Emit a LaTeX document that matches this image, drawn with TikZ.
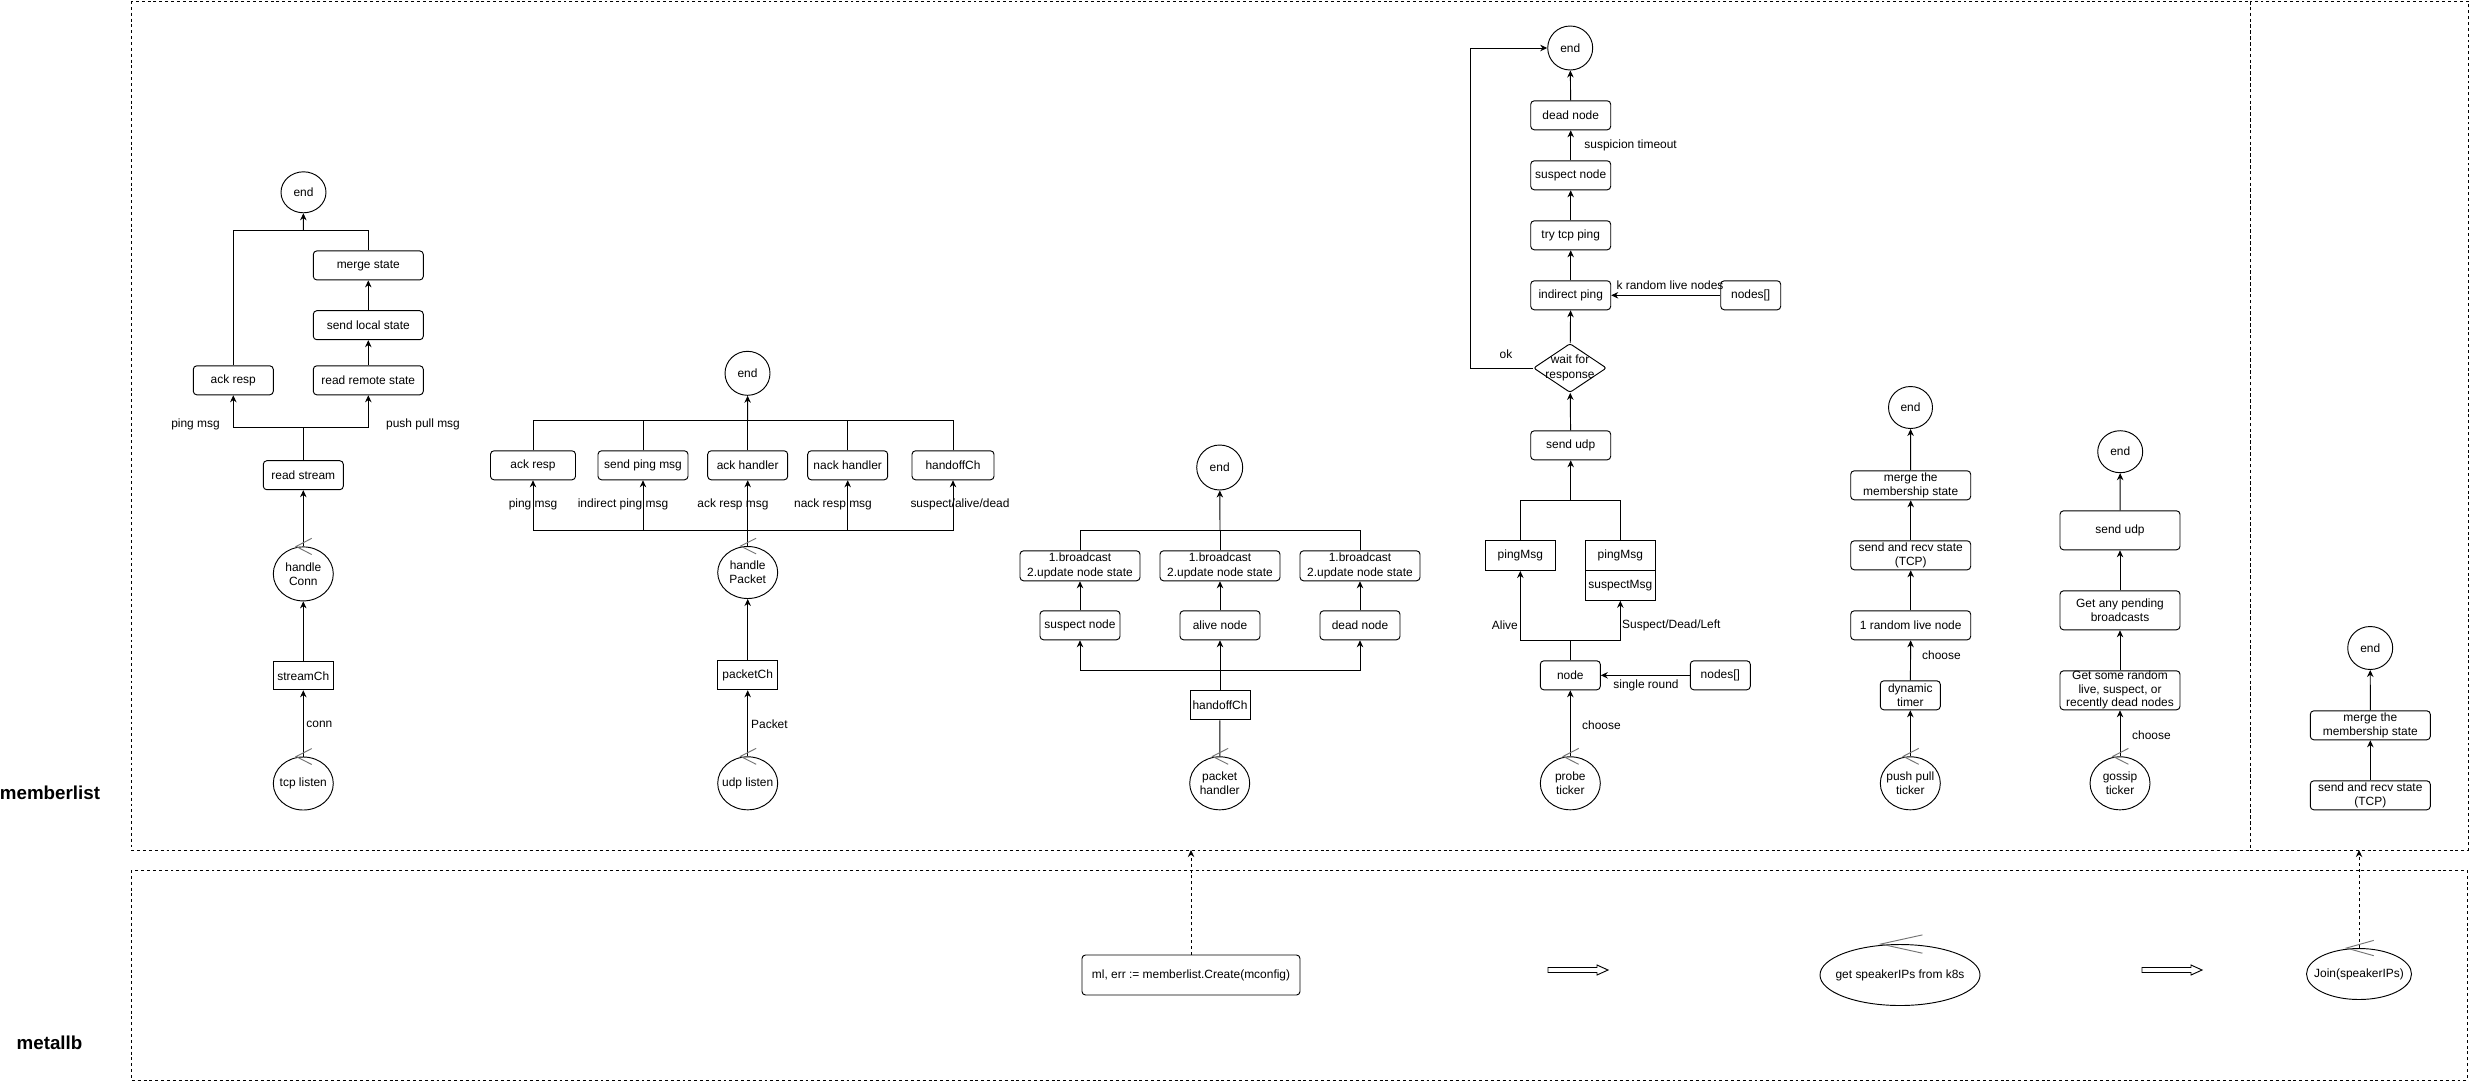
\documentclass[tikz,border=0pt]{standalone}
\usepackage{fontspec}
\setmainfont{Liberation Sans}
\usetikzlibrary{shapes.geometric,arrows.meta,calc}

\newcommand{\boxfont}{\fontsize{10.2}{12.2}\selectfont}

\begin{document}
\begin{tikzpicture}[
  x=0.03cm, y=-0.03cm,
  line width=0.8pt,
  >={Stealth[length=6pt,width=5.5pt]},
  sz/.style 2 args={minimum width=#1*0.03cm, minimum height=#2*0.03cm},
  proc/.style={rectangle, draw, rounded corners=3pt, inner sep=0pt, align=center, font=\boxfont},
  chan/.style={rectangle, draw, inner sep=0pt, align=center, font=\boxfont},
  term/.style={ellipse, draw, inner sep=0pt, font=\boxfont},
  ctrl/.style={ellipse, draw, inner sep=0pt, label={[lbl, align=center]center:#1}},
  decide/.style={diamond, draw, rounded corners=2pt, inner sep=0pt},
  lbl/.style={font=\boxfont, inner sep=0pt},
  zone/.style={draw, dash pattern=on 2.5pt off 2.5pt},
  zonelbl/.style={font=\fontsize{16}{18}\selectfont\bfseries, inner sep=0pt},
  chev/.style={draw=black!55},
  dasharrow/.style={->, dash pattern=on 2.5pt off 2.5pt},
  hollow/.style={draw, fill=white}
]
\useasboundingbox (0,0) rectangle (2471,1081);

% -- Frames --
\draw[zone] (131,1) rectangle (2250,850);
\draw[zone] (2250,1) rectangle (2468,850);
\draw[zone] (131,870) rectangle (2467,1080);
\node[zonelbl] (lblMember) at (50,793) {memberlist};
\node[zonelbl] (lblMetal)  at (49.5,1043) {metallb};

% -- Stream flow --
\node[term, sz={45}{41}]  (endA)     at (303.5,192.3) {end};
\node[proc, sz={110}{29}] (mergeA)   at (368.3,265.4) {merge state};
\node[proc, sz={110}{29}] (sendlocA) at (368.3,325.2) {send local state};
\node[proc, sz={110}{29}] (readremA) at (368.3,380.3) {read remote state};
\node[proc, sz={80}{29}]  (ackA)     at (233.3,380.3) {ack resp};
\node[proc, sz={80}{29}]  (readA)    at (303.3,475.2) {read stream};
\node[ctrl={handle\\Conn}, sz={60}{54}] (handleA) at (303.3,573.9) {};
\node[chan, sz={60}{28}]  (streamCh) at (303.3,675.8) {streamCh};
\node[ctrl={tcp listen}, sz={60}{53}] (tcpA) at (303.3,783.5) {};

\coordinate (joinA) at (303.3,230.2);
\coordinate (forkA) at (303.3,427.5);

\draw (ackA.north) |- (joinA);
\draw (mergeA.north) |- (joinA);
\draw[->] (joinA) -- (endA);
\draw[->] (readremA) -- (sendlocA);
\draw[->] (sendlocA) -- (mergeA);
\draw (readA) -- (forkA);
\draw[->] (forkA) -| (ackA.south);
\draw[->] (forkA) -| (readremA.south);
\draw[->] (handleA) -- (readA);
\draw[->] (streamCh) -- (handleA);
\draw[->] (tcpA) -- (streamCh);

\node[lbl] (lblPingA) at (195.5,424.5) {ping msg};
\node[lbl] (lblPushA) at (423,424.5)   {push pull msg};
\node[lbl, anchor=west] (lblConnA) at (306,724.6) {conn};

% -- Packet flow --
\node[term, sz={45}{44}] (endB)      at (747.5,373.3) {end};
\node[proc, sz={85}{29}] (ackB)      at (533,465.3)   {ack resp};
\node[proc, sz={90}{29}] (sendpingB) at (643,465.3)   {send ping msg};
\node[proc, sz={80}{29}] (ackhB)     at (747.7,465.3) {ack handler};
\node[proc, sz={80}{29}] (nackhB)    at (847.7,465.3) {nack handler};
\node[proc, sz={82}{29}] (handoffB)  at (953,465.3)   {handoffCh};
\node[ctrl={handle\\Packet}, sz={60}{52}] (handleB) at (747.7,572.5) {};
\node[chan, sz={60}{29}] (packetCh)  at (747.7,675.3) {packetCh};
\node[ctrl={udp listen}, sz={60}{53}] (udpB) at (747.7,783.3) {};

\coordinate (joinB) at (747.7,420.7);
\coordinate (forkB) at (747.7,530.7);

\draw (handleB) -- (forkB);
\draw[->] (forkB) -| (ackB.south);
\draw[->] (forkB) -| (sendpingB.south);
\draw[->] (forkB) -- (ackhB.south);
\draw[->] (forkB) -| (nackhB.south);
\draw[->] (forkB) -| (handoffB.south);
\draw (ackB.north) |- (joinB);
\draw (sendpingB.north) |- (joinB);
\draw (ackhB.north) -- (joinB);
\draw (nackhB.north) |- (joinB);
\draw (handoffB.north) |- (joinB);
\draw[->] (joinB) -- (endB);
\draw[->] (packetCh) -- (handleB);
\draw[->] (udpB) -- (packetCh);

\node[lbl] (lblPingB)    at (533,504.7) {ping msg};
\node[lbl] (lblIndB)     at (623,504.7) {indirect ping msg};
\node[lbl] (lblAckB)     at (733,504.7) {ack resp msg};
\node[lbl] (lblNackB)    at (833,504.7) {nack resp msg};
\node[lbl] (lblStateB)   at (960,504.7) {suspect/alive/dead};
\node[lbl, anchor=west] (lblPacketB) at (750.7,724.3) {Packet};

% -- Handoff flow --
\node[term, sz={46}{45}]  (endC)    at (1219.7,467.5) {end};
\node[proc, sz={120}{30}] (bcastC1) at (1080,565.8) {1.broadcast\\2.update node state};
\node[proc, sz={120}{30}] (bcastC2) at (1220,565.8) {1.broadcast\\2.update node state};
\node[proc, sz={120}{30}] (bcastC3) at (1360,565.8) {1.broadcast\\2.update node state};
\node[proc, sz={80}{29}]  (suspC)   at (1080,625.3) {suspect node};
\node[proc, sz={80}{29}]  (aliveC)  at (1220,625.3) {alive node};
\node[proc, sz={80}{29}]  (deadC)   at (1360,625.3) {dead node};
\node[chan, sz={60}{29}]  (handoffC) at (1220,705.3) {handoffCh};
\node[ctrl={packet\\handler}, sz={60}{53}] (pktC) at (1219.7,783.3) {};

\coordinate (joinC) at (1220,530);
\coordinate (forkC) at (1220,670);

\draw (pktC) -- (handoffC);
\draw (handoffC) -- (forkC);
\draw[->] (forkC) -| (suspC.south);
\draw[->] (forkC) -- (aliveC.south);
\draw[->] (forkC) -| (deadC.south);
\draw[->] (suspC) -- (bcastC1);
\draw[->] (aliveC) -- (bcastC2);
\draw[->] (deadC) -- (bcastC3);
\draw (bcastC1.north) |- (joinC);
\draw (bcastC2.north) -- (joinC);
\draw (bcastC3.north) |- (joinC);
\draw[->] (joinC) -- (endC);

% -- Probe flow --
\node[term, sz={45}{44}] (endD)    at (1570.2,48)    {end};
\node[proc, sz={80}{29}] (deadD)   at (1570.7,115.3) {dead node};
\node[proc, sz={80}{29}] (suspD)   at (1570.7,175.3) {suspect node};
\node[proc, sz={80}{29}] (tcpD)    at (1570.7,235.3) {try tcp ping};
\node[proc, sz={80}{29}] (indD)    at (1570.7,295.3) {indirect ping};
\node[proc, sz={60}{29}] (nodesD1) at (1750.7,295.3) {nodes[]};
\node[decide, sz={73}{49}, label={[lbl, align=center]center:wait for\\response}] (waitD) at (1570,368) {};
\node[proc, sz={80}{29}] (sendD)   at (1570.7,445.3) {send udp};
\node[chan, sz={70}{30}] (pingD1)  at (1520.3,555.5) {pingMsg};
\node[chan, sz={70}{30}] (pingD2)  at (1620.3,555.5) {pingMsg};
\node[chan, sz={70}{30}] (suspMsgD) at (1620.3,585.3) {suspectMsg};
\node[proc, sz={60}{29}] (nodeD)   at (1570.3,675.3) {node};
\node[proc, sz={60}{29}] (nodesD2) at (1720.3,675.3) {nodes[]};
\node[ctrl={probe\\ticker}, sz={60}{53}] (probeD) at (1570.3,783.3) {};

\coordinate (cornerD) at (1470.7,48);
\coordinate (joinD) at (1570.7,500);
\coordinate (forkD) at (1570.3,640);

\draw[->] (waitD.west) -| (cornerD) -- (endD.west);
\draw[->] (deadD) -- (endD);
\draw[->] (suspD) -- (deadD);
\draw[->] (tcpD) -- (suspD);
\draw[->] (indD) -- (tcpD);
\draw[->] (nodesD1) -- (indD);
\draw[->] (waitD) -- (indD);
\draw[->] (sendD) -- (waitD);
\draw (pingD1.north) |- (joinD);
\draw (pingD2.north) |- (joinD);
\draw[->] (joinD) -- (sendD);
\draw (nodeD) -- (forkD);
\draw[->] (forkD) -| (pingD1.south);
\draw[->] (forkD) -| (suspMsgD.south);
\draw[->] (nodesD2) -- (nodeD);
\draw[->] (probeD) -- (nodeD);

\node[lbl] (lblOkD) at (1506,354.3) {ok};
\node[lbl, anchor=west] (lblTimeoutD) at (1584,145) {suspicion timeout};
\node[lbl] (lblRandD) at (1670,285) {k random live nodes};
\node[lbl, anchor=east] (lblAliveD) at (1518.3,625) {Alive};
\node[lbl, anchor=west] (lblSuspD) at (1621.7,625) {Suspect/Dead/Left};
\node[lbl] (lblRoundD) at (1646,685) {single round};
\node[lbl, anchor=west] (lblChooseD) at (1581.7,725) {choose};

% -- Push pull flow --
\node[term, sz={44}{42}]  (endE)      at (1910.5,407.5) {end};
\node[proc, sz={120}{29}] (mergeE)    at (1910.7,485.3) {merge the\\membership state};
\node[proc, sz={120}{29}] (sendrecvE) at (1910.7,555.3) {send and recv state\\(TCP)};
\node[proc, sz={120}{29}] (randE)     at (1910.7,625.3) {1 random live node};
\node[proc, sz={60}{29}]  (timerE)    at (1910.3,695.3) {dynamic\\timer};
\node[ctrl={push pull\\ticker}, sz={60}{53}] (pushE) at (1910.3,783.3) {};

\draw[->] (mergeE) -- (endE);
\draw[->] (sendrecvE) -- (mergeE);
\draw[->] (randE) -- (sendrecvE);
\draw[->] (timerE) -- (randE);
\draw[->] (pushE) -- (timerE);
\node[lbl, anchor=west] (lblChooseE) at (1921.7,655) {choose};

% -- Gossip flow --
\node[term, sz={45}{42}]  (endF)    at (2120.2,451.7) {end};
\node[proc, sz={120}{39}] (sendF)   at (2120,530.3) {send udp};
\node[proc, sz={120}{39}] (pendF)   at (2120,610.3) {Get any pending\\broadcasts};
\node[proc, sz={120}{39}, font=\fontsize{10.2}{11.5}\selectfont] (someF) at (2120,690.3) {Get some random\\live, suspect, or\\recently dead nodes};
\node[ctrl={gossip\\ticker}, sz={60}{53}] (gossipF) at (2120,783.3) {};

\draw[->] (sendF) -- (endF);
\draw[->] (pendF) -- (sendF);
\draw[->] (someF) -- (pendF);
\draw[->] (gossipF) -- (someF);
\node[lbl, anchor=west] (lblChooseF) at (2131.7,735) {choose};

% -- Join flow --
\node[term, sz={45}{43}]  (endG)      at (2370.2,648)   {end};
\node[proc, sz={120}{29}] (mergeG)    at (2370.3,725.3) {merge the\\membership state};
\node[proc, sz={120}{29}] (sendrecvG) at (2370.3,795.3) {send and recv state\\(TCP)};

\draw[->] (mergeG) -- (endG);
\draw[->] (sendrecvG) -- (mergeG);

% -- metallb --
\node[proc, sz={218}{40}] (ml) at (1191,975) {ml, err := memberlist.Create(mconfig)};
\node[ctrl={get speakerIPs from k8s}, sz={160}{61}] (speakers) at (1900,975) {};
\node[ctrl={Join(speakerIPs)}, sz={105}{51}] (join) at (2359,974) {};

\coordinate (mlUp) at (1191,850);
\coordinate (joinUp) at (2359,850);
\draw[dasharrow] (ml) -- (mlUp);
\draw[dasharrow] (join) -- (joinUp);

\foreach \xa in {1548,2142}
  \draw[hollow] (\xa,967.5) -- ++(49,0) -- ++(0,-2.5) -- ++(11,5) -- ++(-11,5) -- ++(0,-2.5) -- ++(-49,0) -- cycle;

% -- control marks --
\foreach \n/\w/\h in {tcpA/60/53, handleA/60/54, udpB/60/53, handleB/60/52, pktC/60/53,
                      probeD/60/53, pushE/60/53, gossipF/60/53, speakers/160/61, join/105/51}
  \draw[chev] ($(\n.north)+(0.14*\w,-0.15*\h)$) -- ($(\n.north)+(-0.12*\w,0)$) -- ($(\n.north)+(0.14*\w,0.15*\h)$);

\end{tikzpicture}
\end{document}
